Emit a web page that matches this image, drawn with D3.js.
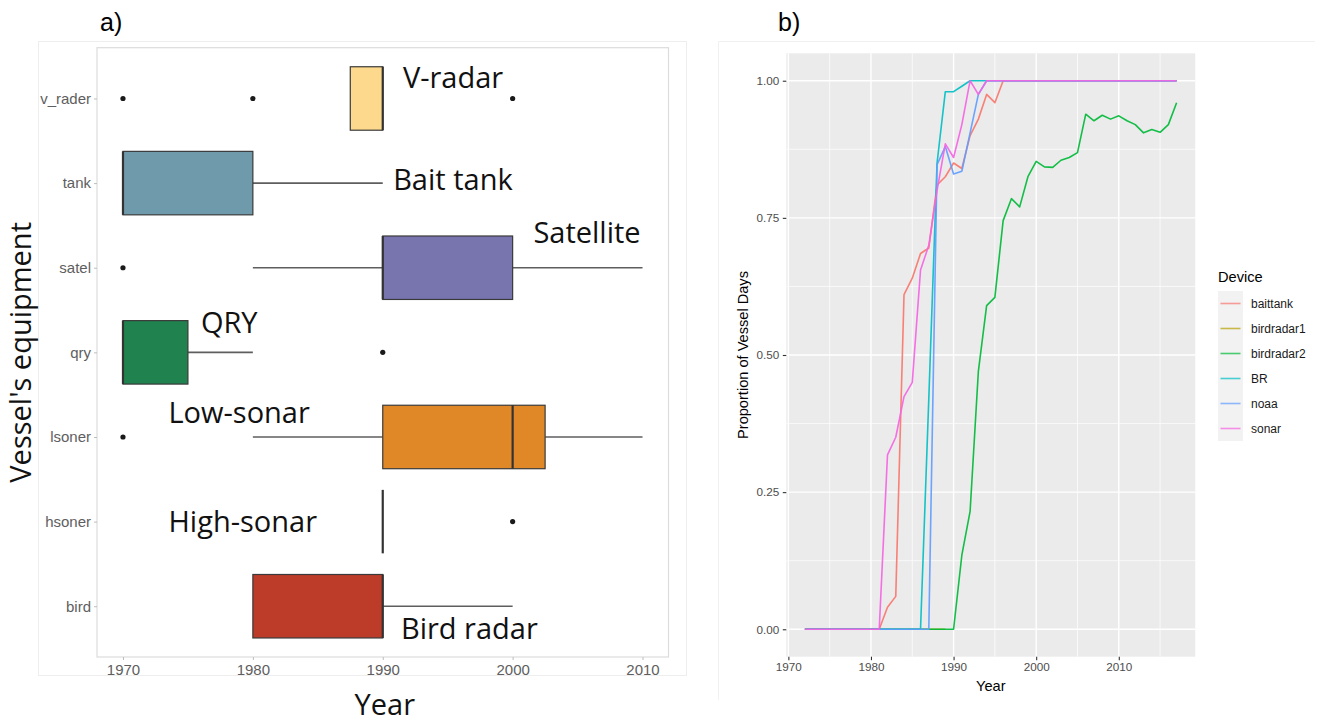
<!DOCTYPE html>
<html>
<head>
<meta charset="utf-8">
<script src="https://cdn.jsdelivr.net/npm/d3@7"></script>
<style>
  body { margin: 0; background: #fff; }
  svg { display: block; }
</style>
</head>
<body>
<div id="chart"></div>
<script>
// -------- panel a: equipment box plot ---------- //
var equipment = ["v_rader", "tank", "satel", "qry", "lsoner", "hsoner", "bird"];
var equipmentLabels = ["V-radar", "Bait tank", "Satellite", "QRY", "Low-sonar", "High-sonar", "Bird radar"];
var lowerWhisker = [1987.5, 1970, 1980, 1970, 1980, 1990, 1980];
var q1 = [1987.5, 1970, 1990, 1970, 1990, 1990, 1980];
var median = [1990, 1970, 1990, 1970, 2000, 1990, 1990];
var q3 = [1990, 1980, 2000, 1975, 2002.5, 1990, 1990];
var upperWhisker = [1990, 1990, 2010, 1980, 2010, 1990, 2000];
var outliers = [[1970, 1980, 2000], [], [1970], [1990], [1970], [2000], []];
var yearTicksA = [1970, 1980, 1990, 2000, 2010];

// -------- panel b: proportion of vessel days ---------- //
var years = [1972, 1973, 1974, 1975, 1976, 1977, 1978, 1979, 1980, 1981,
  1982, 1983, 1984, 1985, 1986, 1987, 1988, 1989, 1990, 1991,
  1992, 1993, 1994, 1995, 1996, 1997, 1998, 1999, 2000, 2001,
  2002, 2003, 2004, 2005, 2006, 2007, 2008, 2009, 2010, 2011,
  2012, 2013, 2014, 2015, 2016, 2017];
var devices = ["baittank", "birdradar1", "birdradar2", "BR", "noaa", "sonar"];
var baittank = [0, 0, 0, 0, 0, 0, 0, 0, 0, 0,
  0.04, 0.06, 0.61, 0.64, 0.685, 0.695, 0.81, 0.825, 0.85, 0.84,
  0.9, 0.93, 0.975, 0.96, 1, 1, 1, 1, 1, 1,
  1, 1, 1, 1, 1, 1, 1, 1, 1, 1,
  1, 1, 1, 1, 1, 1];
var birdradar1 = [0, 0, 0, 0, 0, 0, 0, 0, 0, 0,
  0, 0, 0, 0, 0, 0, 0, 0];
var birdradar2 = [0, 0, 0, 0, 0, 0, 0, 0, 0, 0,
  0, 0, 0, 0, 0, 0, 0, 0, 0, 0.135,
  0.215, 0.47, 0.59, 0.605, 0.745, 0.785, 0.77, 0.825, 0.853, 0.843,
  0.842, 0.855, 0.86, 0.869, 0.939, 0.927, 0.937, 0.93, 0.936, 0.927,
  0.92, 0.905, 0.911, 0.906, 0.92, 0.96];
var BR = [0, 0, 0, 0, 0, 0, 0, 0, 0, 0,
  0, 0, 0, 0, 0, 0.42, 0.85, 0.98, 0.98, 0.99,
  1, 1, 1, 1, 1, 1, 1, 1, 1, 1,
  1, 1, 1, 1, 1, 1, 1, 1, 1, 1,
  1, 1, 1, 1, 1, 1];
var noaa = [0, 0, 0, 0, 0, 0, 0, 0, 0, 0,
  0, 0, 0, 0, 0, 0, 0.847, 0.88, 0.83, 0.835,
  0.905, 0.975, 1, 1, 1, 1, 1, 1, 1, 1,
  1, 1, 1, 1, 1, 1, 1, 1, 1, 1,
  1, 1, 1, 1, 1, 1];
var sonar = [0, 0, 0, 0, 0, 0, 0, 0, 0, 0,
  0.318, 0.35, 0.424, 0.45, 0.655, 0.7, 0.8, 0.885, 0.86, 0.92,
  1, 0.975, 1, 1, 1, 1, 1, 1, 1, 1,
  1, 1, 1, 1, 1, 1, 1, 1, 1, 1,
  1, 1, 1, 1, 1, 1];
var yearTicksB = [1970, 1980, 1990, 2000, 2010];
var yearMinorB = [1975, 1985, 1995, 2005, 2015];
var propTicks = [0, 0.25, 0.5, 0.75, 1];
var propMinor = [0.125, 0.375, 0.625, 0.875];

var seriesValues = [baittank, birdradar1, birdradar2, BR, noaa, sonar];

var equipColor = d3
  .scaleOrdinal()
  .domain(equipment)
  .range(["#FDD98D", "#6F9AAC", "#7774AE", "#20834F", "#E08727", "#888888", "#BC3C29"]);

var deviceColor = d3
  .scaleOrdinal()
  .domain(devices)
  .range(["#F8766D", "#B79F00", "#00BA38", "#00BFC4", "#619CFF", "#F564E3"]);

var svg = d3
  .select("#chart")
  .append("svg")
  .attr("width", 1326)
  .attr("height", 722);

svg.append("rect").attr("width", 1326).attr("height", 722).attr("fill", "#fff");

var sansA = "'Open Sans', 'Noto Sans', sans-serif";
var sansB = "'Liberation Sans', Arial, sans-serif";

// ================= panel a ================= //
var panelA = { left: 97, right: 668.5, top: 47.7, bottom: 657 };

// faint frame of the figure
svg
  .append("rect")
  .attr("x", 38.5)
  .attr("y", 41.5)
  .attr("width", 648)
  .attr("height", 634)
  .attr("fill", "none")
  .attr("stroke", "#eeeeee");

svg
  .append("text")
  .attr("x", 100)
  .attr("y", 31)
  .style("font-family", sansB)
  .style("font-size", "25px")
  .text("a)");

var xA = d3.scaleLinear().domain([1968, 2012]).range([panelA.left, panelA.right]);
var yA = d3
  .scalePoint()
  .domain(equipment)
  .range([panelA.top, panelA.bottom])
  .padding(0.6);

svg
  .append("rect")
  .attr("x", panelA.left)
  .attr("y", panelA.top)
  .attr("width", panelA.right - panelA.left)
  .attr("height", panelA.bottom - panelA.top)
  .attr("fill", "#fff")
  .attr("stroke", "#dcdcdc")
  .attr("stroke-width", 1.2);

var axA = svg
  .append("g")
  .attr("transform", "translate(0," + panelA.bottom + ")")
  .call(d3.axisBottom(xA).tickValues(yearTicksA).tickFormat(d3.format("d")).tickSize(3).tickPadding(4));
var ayA = svg
  .append("g")
  .attr("transform", "translate(" + panelA.left + ",0)")
  .call(d3.axisLeft(yA).tickSize(3).tickPadding(3));
[axA, ayA].forEach(function(g) {
  g.select(".domain").remove();
  g.selectAll(".tick line").attr("stroke", "#bdbdbd");
  g.selectAll(".tick text")
    .attr("fill", "#5e5e5e")
    .style("font-family", sansB)
    .style("font-size", "15px");
});

var boxH = yA.step() * 0.75;
var boxes = equipment.map(function(k, i) {
  return {
    key: k,
    lo: lowerWhisker[i],
    q1: q1[i],
    med: median[i],
    q3: q3[i],
    hi: upperWhisker[i],
    out: outliers[i],
  };
});

var gBox = svg.append("g");

// whiskers
boxes.forEach(function(b) {
  var y = yA(b.key);
  if (b.lo < b.q1) {
    gBox.append("line")
      .attr("x1", xA(b.lo)).attr("x2", xA(b.q1))
      .attr("y1", y).attr("y2", y)
      .attr("stroke", "#5e5e5e").attr("stroke-width", 1.7);
  }
  if (b.hi > b.q3) {
    gBox.append("line")
      .attr("x1", xA(b.q3)).attr("x2", xA(b.hi))
      .attr("y1", y).attr("y2", y)
      .attr("stroke", "#5e5e5e").attr("stroke-width", 1.7);
  }
});

gBox
  .selectAll("rect.box")
  .data(boxes)
  .join("rect")
  .attr("class", "box")
  .attr("x", function(d) { return xA(d.q1); })
  .attr("y", function(d) { return yA(d.key) - boxH / 2; })
  .attr("width", function(d) { return xA(d.q3) - xA(d.q1); })
  .attr("height", boxH)
  .attr("fill", function(d) { return equipColor(d.key); })
  .attr("stroke", "#3a3a3a")
  .attr("stroke-width", 1.2);

gBox
  .selectAll("line.median")
  .data(boxes)
  .join("line")
  .attr("class", "median")
  .attr("x1", function(d) { return xA(d.med); })
  .attr("x2", function(d) { return xA(d.med); })
  .attr("y1", function(d) { return yA(d.key) - boxH / 2; })
  .attr("y2", function(d) { return yA(d.key) + boxH / 2; })
  .attr("stroke", "#333")
  .attr("stroke-width", 2.2);

boxes.forEach(function(b) {
  gBox.selectAll(null)
    .data(b.out)
    .join("circle")
    .attr("cx", function(d) { return xA(d); })
    .attr("cy", yA(b.key))
    .attr("r", 2.6)
    .attr("fill", "#1a1a1a");
});

// hand placed labels: start year and pixel offset from the row centre
var labelSpots = {
  v_rader: [1991.55, -10.5],
  tank: [1990.8, 7],
  satel: [2001.6, -25],
  qry: [1976, -19],
  lsoner: [1973.5, -14],
  hsoner: [1973.5, 10.5],
  bird: [1991.4, 33],
};
svg
  .append("g")
  .selectAll("text")
  .data(equipment)
  .join("text")
  .attr("x", function(d) { return xA(labelSpots[d][0]); })
  .attr("y", function(d) { return yA(d) + labelSpots[d][1]; })
  .style("font-family", sansA)
  .style("font-size", "29px")
  .attr("fill", "#111")
  .text(function(d, i) { return equipmentLabels[i]; });

svg
  .append("text")
  .attr("x", (panelA.left + panelA.right) / 2 + 2)
  .attr("y", 715)
  .attr("text-anchor", "middle")
  .style("font-family", sansA)
  .style("font-size", "29px")
  .attr("fill", "#111")
  .text("Year");

svg
  .append("text")
  .attr("transform", "translate(31," + (panelA.top + panelA.bottom) / 2 + ") rotate(-90)")
  .attr("text-anchor", "middle")
  .style("font-family", sansA)
  .style("font-size", "29px")
  .attr("fill", "#111")
  .text("Vessel's equipment");

// ================= panel b ================= //
var panelB = { left: 786.3, right: 1195.2, top: 53.3, bottom: 656.7 };

svg
  .append("path")
  .attr("d", "M718.5,700 V41.5 H1315")
  .attr("fill", "none")
  .attr("stroke", "#f1f1f1");

svg
  .append("text")
  .attr("x", 778)
  .attr("y", 31)
  .style("font-family", sansB)
  .style("font-size", "25px")
  .text("b)");

var xB = d3.scaleLinear().domain([1969.75, 2019.25]).range([panelB.left, panelB.right]);
var yB = d3.scaleLinear().domain([-0.05, 1.05]).range([panelB.bottom, panelB.top]);

svg
  .append("rect")
  .attr("x", panelB.left)
  .attr("y", panelB.top)
  .attr("width", panelB.right - panelB.left)
  .attr("height", panelB.bottom - panelB.top)
  .attr("fill", "#EBEBEB");

var grid = svg.append("g").attr("stroke", "#fff");
grid.selectAll("line.vminor")
  .data(yearMinorB)
  .join("line")
  .attr("class", "vminor")
  .attr("x1", function(d) { return xB(d); })
  .attr("x2", function(d) { return xB(d); })
  .attr("y1", panelB.top).attr("y2", panelB.bottom)
  .attr("stroke-width", 0.7);
grid.selectAll("line.hminor")
  .data(propMinor)
  .join("line")
  .attr("class", "hminor")
  .attr("y1", function(d) { return yB(d); })
  .attr("y2", function(d) { return yB(d); })
  .attr("x1", panelB.left).attr("x2", panelB.right)
  .attr("stroke-width", 0.7);
grid.selectAll("line.vmajor")
  .data(yearTicksB)
  .join("line")
  .attr("class", "vmajor")
  .attr("x1", function(d) { return xB(d); })
  .attr("x2", function(d) { return xB(d); })
  .attr("y1", panelB.top).attr("y2", panelB.bottom)
  .attr("stroke-width", 1.4);
grid.selectAll("line.hmajor")
  .data(propTicks)
  .join("line")
  .attr("class", "hmajor")
  .attr("y1", function(d) { return yB(d); })
  .attr("y2", function(d) { return yB(d); })
  .attr("x1", panelB.left).attr("x2", panelB.right)
  .attr("stroke-width", 1.4);

var axB = svg
  .append("g")
  .attr("transform", "translate(0," + panelB.bottom + ")")
  .call(d3.axisBottom(xB).tickValues(yearTicksB).tickFormat(d3.format("d")).tickSize(3.5).tickPadding(2.5));
var ayB = svg
  .append("g")
  .attr("transform", "translate(" + panelB.left + ",0)")
  .call(d3.axisLeft(yB).tickValues(propTicks).tickFormat(d3.format(".2f")).tickSize(3.5).tickPadding(3.5));
[axB, ayB].forEach(function(g) {
  g.select(".domain").remove();
  g.selectAll(".tick line").attr("stroke", "#333").attr("stroke-width", 1.1);
  g.selectAll(".tick text")
    .attr("fill", "#4D4D4D")
    .style("font-family", sansB)
    .style("font-size", "11.7px");
});

var line = d3
  .line()
  .x(function(d) { return xB(d[0]); })
  .y(function(d) { return yB(d[1]); });

svg
  .append("g")
  .selectAll("path")
  .data(devices)
  .join("path")
  .attr("fill", "none")
  .attr("stroke", function(d) { return deviceColor(d); })
  .attr("stroke-width", 1.6)
  .attr("stroke-opacity", 0.92)
  .attr("stroke-linejoin", "round")
  .attr("d", function(d, i) {
    var vals = seriesValues[i];
    return line(vals.map(function(v, j) { return [years[j], v]; }));
  });

svg
  .append("text")
  .attr("x", (panelB.left + panelB.right) / 2)
  .attr("y", 691)
  .attr("text-anchor", "middle")
  .style("font-family", sansB)
  .style("font-size", "14.6px")
  .text("Year");

svg
  .append("text")
  .attr("transform", "translate(743," + (panelB.top + panelB.bottom) / 2 + ") rotate(-90)")
  .attr("text-anchor", "middle")
  .attr("dy", "0.35em")
  .style("font-family", sansB)
  .style("font-size", "14.6px")
  .text("Proportion of Vessel Days");

// legend
var legend = svg.append("g").attr("transform", "translate(1218,291)");
legend
  .append("text")
  .attr("x", 0)
  .attr("y", -9)
  .style("font-family", sansB)
  .style("font-size", "14.6px")
  .text("Device");
legend
  .append("rect")
  .attr("width", 25)
  .attr("height", 25 * devices.length)
  .attr("fill", "#F2F2F2");
var keys = legend
  .selectAll("g.key")
  .data(devices)
  .join("g")
  .attr("class", "key")
  .attr("transform", function(d, i) { return "translate(0," + (i * 25 + 12.5) + ")"; });
keys
  .append("line")
  .attr("x1", 2.5)
  .attr("x2", 22.5)
  .attr("stroke", function(d) { return deviceColor(d); })
  .attr("stroke-width", 1.6)
  .attr("stroke-opacity", 0.7);
keys
  .append("text")
  .attr("x", 33)
  .attr("dy", "0.35em")
  .style("font-family", sansB)
  .style("font-size", "12px")
  .attr("fill", "#1a1a1a")
  .text(function(d) { return d; });
</script>
</body>
</html>
